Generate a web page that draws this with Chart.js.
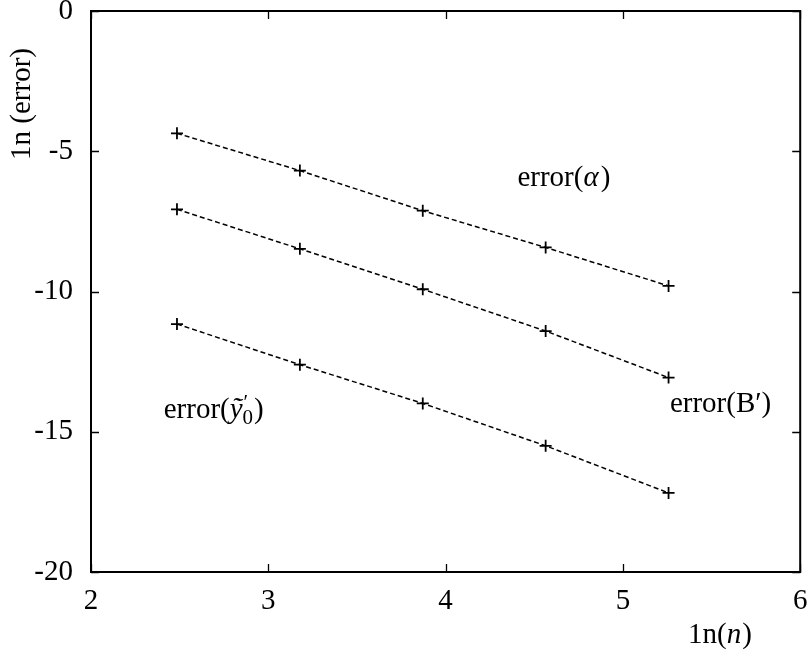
<!DOCTYPE html>
<html><head><meta charset="utf-8">
<script src="https://cdn.jsdelivr.net/npm/chart.js@4/dist/chart.umd.min.js"></script>
<style>html,body{margin:0;padding:0;background:#fff}</style>
</head><body>
<canvas id="c" width="808" height="656" style="width:808px;height:656px;display:block"></canvas>
<script>
// ---- data ----
const lnN      = [2.4849, 3.1781, 3.8712, 4.5643, 5.2575];
const errAlpha = [-4.36, -5.69, -7.12, -8.43, -9.80];
const errBp    = [-7.07, -8.48, -9.92, -11.41, -13.07];
const errY0    = [-11.16, -12.61, -13.99, -15.50, -17.18];
const xTicks   = [2, 3, 4, 5, 6];
const yTicks   = [0, -5, -10, -15, -20];
// label anchors (data coords: left x, baseline y)
const labelAlpha = {x: 4.405, y: -6.23};
const labelBp    = {x: 5.265, y: -14.29};
const labelY0    = {x: 2.41, y: -14.50};

const FONT = '"Liberation Serif", "Times New Roman", serif';
const FS = 29;

function series(label, ys) {
  return {
    label,
    data: lnN.map((x, i) => ({x, y: ys[i]})),
    showLine: true,
    borderColor: '#000',
    backgroundColor: '#000',
    borderWidth: 1.5,
    borderDash: [5, 3],
    pointStyle: 'cross',
    pointRadius: 6,
    pointHoverRadius: 6,
    pointBorderWidth: 1.8,
    pointBorderColor: '#000',
    tension: 0
  };
}

function drawRich(ctx, x, y, parts) {
  let cx = x;
  for (const p of parts) {
    if (p.stack) {
      let w = 0;
      for (const q of p.stack) {
        ctx.font = q.font;
        ctx.fillText(q.t, cx + (q.dx || 0), y + (q.dy || 0));
        w = Math.max(w, ctx.measureText(q.t).width + (q.dx || 0));
      }
      cx += w;
    } else {
      ctx.font = p.font;
      ctx.fillText(p.t, cx + (p.dx || 0), y + (p.dy || 0));
      cx += ctx.measureText(p.t).width + (p.dx || 0);
    }
  }
}

const R = FS + 'px ' + FONT;
const I = 'italic ' + FS + 'px ' + FONT;
const S = Math.round(FS * 0.72) + 'px ' + FONT;

const framePlugin = {
  id: 'frame',
  afterDraw(chart) {
    const {ctx, chartArea: a, scales: {x, y}} = chart;
    ctx.save();
    ctx.strokeStyle = '#000';
    ctx.lineWidth = 1.3;
    ctx.setLineDash([]);
    const L = 8;
    ctx.beginPath();
    for (const v of xTicks) {
      const px = Math.round(x.getPixelForValue(v)) + 0.5;
      ctx.moveTo(px, a.bottom); ctx.lineTo(px, a.bottom - L);
      ctx.moveTo(px, a.top); ctx.lineTo(px, a.top + L);
    }
    for (const v of yTicks) {
      const py = Math.round(y.getPixelForValue(v)) + 0.5;
      ctx.moveTo(a.left, py); ctx.lineTo(a.left + L, py);
      ctx.moveTo(a.right, py); ctx.lineTo(a.right - L, py);
    }
    ctx.stroke();
    ctx.lineWidth = 2;
    ctx.strokeRect(a.left, a.top, a.right - a.left, a.bottom - a.top);

    // series labels
    ctx.fillStyle = '#000';
    ctx.textBaseline = 'alphabetic';
    ctx.textAlign = 'left';
    const P = (o) => [x.getPixelForValue(o.x), y.getPixelForValue(o.y)];
    let [ax, ay] = P(labelAlpha);
    drawRich(ctx, ax, ay, [{t: 'error(', font: R}, {t: '\u03B1', font: I}, {t: ')', font: R, dx: 2}]);
    [ax, ay] = P(labelBp);
    drawRich(ctx, ax, ay, [{t: 'error(B', font: R}, {t: '\u2032', font: R}, {t: ')', font: R}]);
    [ax, ay] = P(labelY0);
    drawRich(ctx, ax, ay, [
      {t: 'error(', font: R},
      {t: '\u1EF9', font: I},
      {stack: [{t: '\u2032', font: S, dy: -9, dx: 1}, {t: '0', font: S, dy: 6}]},
      {t: ')', font: R, dx: 1}
    ]);

    // axis titles
    ctx.save();
    ctx.translate(22, 104);
    ctx.rotate(-Math.PI / 2);
    ctx.textAlign = 'center';
    ctx.textBaseline = 'middle';
    ctx.font = R;
    ctx.fillText('1n (error)', 0, 0);
    ctx.restore();
    drawRich(ctx, 688, 643, [{t: '1n(', font: R}, {t: 'n', font: I}, {t: ')', font: R, dx: 1}]);
    ctx.restore();
  }
};

new Chart(document.getElementById('c'), {
  type: 'scatter',
  data: {
    datasets: [
      series('error(alpha)', errAlpha),
      series("error(B')", errBp),
      series("error(y0')", errY0)
    ]
  },
  options: {
    responsive: false,
    devicePixelRatio: 1,
    animation: false,
    events: [],
    layout: {padding: {top: 11, right: 3, left: 0, bottom: 0}},
    plugins: {legend: {display: false}, tooltip: {enabled: false}},
    scales: {
      x: {
        type: 'linear', min: 2, max: 6,
        afterBuildTicks: s => { s.ticks = xTicks.map(v => ({value: v})); },
        afterFit: s => { s.height = 84; s.paddingLeft = 0; s.paddingRight = 0; },
        grid: {display: false, drawTicks: false},
        border: {display: false},
        ticks: {color: '#000', font: {family: FONT, size: FS}, padding: 12, maxRotation: 0, autoSkip: false,
                callback: v => String(v)}
      },
      y: {
        type: 'linear', min: -20, max: 0,
        afterBuildTicks: s => { s.ticks = yTicks.map(v => ({value: v})); },
        afterFit: s => { s.width = 91; s.paddingTop = 0; s.paddingBottom = 0; },
        grid: {display: false, drawTicks: false},
        border: {display: false},
        ticks: {color: '#000', font: {family: FONT, size: FS}, padding: 18, autoSkip: false,
                callback: v => String(v)}
      }
    }
  },
  plugins: [framePlugin]
});
</script>
</body></html>
